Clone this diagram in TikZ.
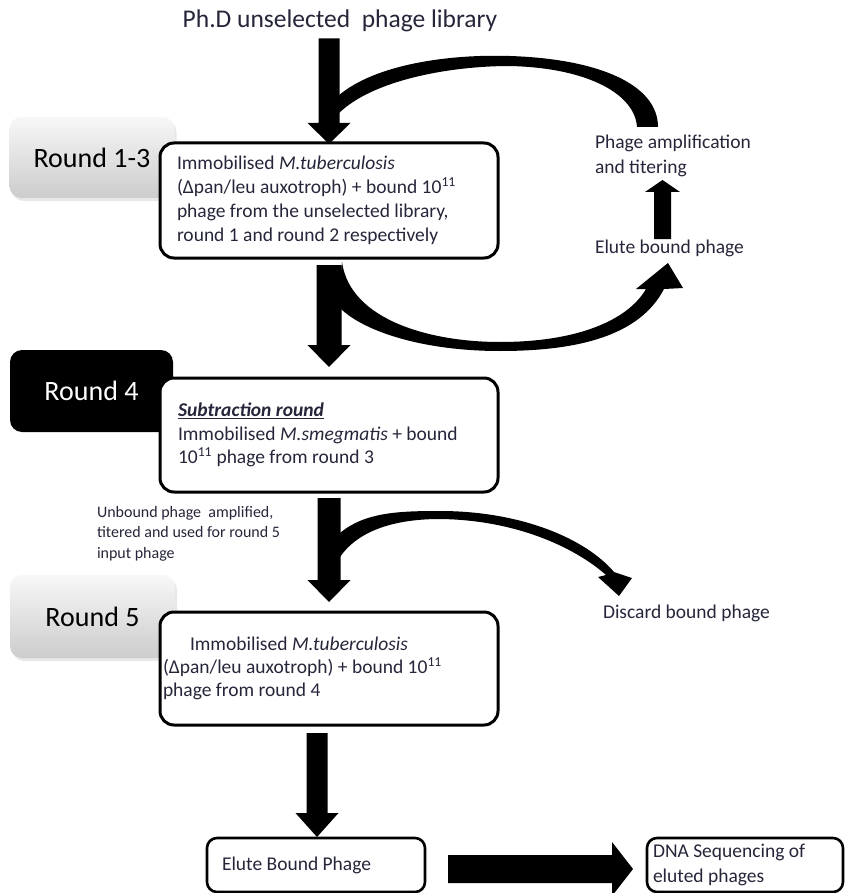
\documentclass[tikz,border=0pt]{standalone}
\usepackage{fontspec}
\setmainfont{Carlito}
\usetikzlibrary{calc,shadows}
\definecolor{txt}{RGB}{38,38,58}

\newcommand{\fatdown}[5]{\fill let \p1=(#1), \p2=(#2) in
  (\x1-#3,\y1) -- (\x1+#3,\y1) -- (\x1+#3,\y2+#5) -- (\x1+#4,\y2+#5) -- (\x1,\y2)
  -- (\x1-#4,\y2+#5) -- (\x1-#3,\y2+#5) -- cycle;}
\newcommand{\fatup}[5]{\fill let \p1=(#1), \p2=(#2) in
  (\x1-#3,\y1) -- (\x1+#3,\y1) -- (\x1+#3,\y2-#5) -- (\x1+#4,\y2-#5) -- (\x1,\y2)
  -- (\x1-#4,\y2-#5) -- (\x1-#3,\y2-#5) -- cycle;}
\newcommand{\fatright}[5]{\fill let \p1=(#1), \p2=(#2) in
  (\x1,\y1-#3) -- (\x2-#5,\y1-#3) -- (\x2-#5,\y1-#4) -- (\x2,\y1)
  -- (\x2-#5,\y1+#4) -- (\x2-#5,\y1+#3) -- (\x1,\y1+#3) -- cycle;}

\tikzset{
  mainbox/.style={draw=black, line width=3pt, rounded corners=14pt, fill=white,
    inner ysep=0pt, outer sep=0pt, align=flush left, text=txt,
    font=\fontsize{19.5}{24}\selectfont},
  smallbox/.style={draw=black, line width=2.6pt, rounded corners=10pt, fill=white,
    inner ysep=0pt, outer sep=0pt, align=flush left, text=txt,
    font=\fontsize{19.5}{25}\selectfont, minimum height=54pt},
  roundlbl/.style={rounded corners=12pt, inner sep=0pt, outer sep=0pt,
    top color=gray!6, bottom color=gray!40, text=black,
    font=\fontsize{28}{34}\selectfont,
    drop shadow={shadow xshift=2pt, shadow yshift=-3pt, opacity=0.18}},
  roundblk/.style={rounded corners=12pt, inner sep=0pt, outer sep=0pt,
    fill=black, text=white, font=\fontsize{28}{34}\selectfont},
  plain/.style={inner sep=0pt, outer sep=0pt, align=left, text=txt,
    font=\fontsize{19.5}{25}\selectfont},
  smalltext/.style={inner sep=0pt, outer sep=0pt, align=left, text=txt,
    font=\fontsize{16}{20.5}\selectfont}
}

\begin{document}
\begin{tikzpicture}[x=1pt,y=-1pt]
\useasboundingbox (0,0) rectangle (845,893);
\fill[white] (0,0) rectangle (845,893);

% title
\node[inner sep=0pt, outer sep=0pt, text=txt, font=\fontsize{25.5}{30}\selectfont, anchor=base]
  (title) at (340,28) {Ph.D unselected\ \ phage library};

% round labels
\node[roundlbl, minimum width=165pt, minimum height=81pt] (r13) at (92,157.5) {Round 1-3};
\node[roundblk, minimum width=163pt, minimum height=82pt] (r4) at (91.5,391) {Round 4};
\node[roundlbl, minimum width=165pt, minimum height=83pt] (r5) at (92.5,616.5) {Round 5};

% main boxes
\node[mainbox, minimum height=115pt, text width=304pt, inner xsep=17pt] (b1) at (329,200.5)
  {Immobilised \textit{M.tuberculosis}\\
   (Δpan/leu auxotroph) + bound 10\textsuperscript{11}\\
   phage from the unselected library,\\
   round 1 and round 2 respectively};
\node[mainbox, minimum height=114pt, text width=302pt, inner xsep=18pt,
      font=\fontsize{19.5}{23.5}\selectfont] (b2) at (329,435)
  {\textbf{\textit{\underline{Subtraction round}}}\\
   Immobilised \textit{M.smegmatis} + bound\\
   10\textsuperscript{11} phage from round 3};
\node[mainbox, minimum height=113pt, text width=332pt, inner xsep=3pt,
      font=\fontsize{19.5}{23}\selectfont] (b3) at (329,668.5)
  {\hspace*{27pt}Immobilised \textit{M.tuberculosis}\\
   (Δpan/leu auxotroph) + bound 10\textsuperscript{11}\\
   phage from round 4};

% bottom boxes
\node[smallbox, text width=188pt, inner xsep=15pt] (el) at (316,865) {Elute Bound Phage};
\node[smallbox, text width=184pt, inner xsep=6pt] (dna) at (745,865)
  {DNA Sequencing of\\eluted phages};

% side texts
\node[plain, anchor=north west] (amp) at (595,135) {Phage amplification\\and titering};
\node[plain, anchor=north west] (elb) at (595,240) {Elute bound phage};
\node[plain, anchor=north west] (disc) at (603,605) {Discard bound phage};
\node[smalltext, anchor=north west] (unb) at (97,506)
  {Unbound phage\ \ amplified,\\titered and used for round 5\\input phage};

% straight fat arrows
\fatdown{$(title.south -| b1.north)+(0,6)$}{$(b1.north)+(0,1)$}{10.5pt}{21.5pt}{21pt}
\fatdown{$(b1.south)+(0,7)$}{$(b2.north)+(0,-11)$}{12.5pt}{21.5pt}{22pt}
\fatdown{$(b2.south)+(0,6)$}{$(b3.north)+(0,-10)$}{11.5pt}{21.5pt}{22pt}
\fatdown{$(b3.south -| el.north)+(1,8)$}{$(el.north)+(0,-1)$}{10.5pt}{21.5pt}{24pt}
\fatright{$(el.east)+(23,4)$}{$(dna.west)+(-14,4)$}{14pt}{27pt}{21pt}

% up arrow between elute and amplification
\coordinate (up1) at (662.5,239);
\coordinate (up2) at (662.5,180);
\fatup{up1}{up2}{8.5pt}{17.5pt}{12pt}

% curved return arrow (top)
\fill (338,96) .. controls (375,64) and (450,54) .. (510,56)
  .. controls (600,59) and (658,85) .. (658,127) -- (637,127)
  .. controls (635,95) and (590,68) .. (510,66)
  .. controls (450,66) and (372,80) .. (338,114) -- cycle;

% curved arrow to elute bound phage
\fill (342,262) .. controls (350,320) and (430,342) .. (500,342)
  .. controls (578,342) and (628,320) .. (646,289) -- (636,289) -- (668,263)
  -- (683,288) -- (664,289)
  .. controls (640,335) and (580,351) .. (500,351)
  .. controls (420,351) and (360,330) .. (338,306) -- cycle;

% curved arrow to discard
\fill (340,533) .. controls (365,512) and (400,511) .. (440,511)
  .. controls (520,511) and (585,538) .. (614,572) -- (632,578) -- (619,596)
  -- (598,577) -- (606,575)
  .. controls (578,550) and (520,520) .. (440,519)
  .. controls (400,519) and (360,528) .. (340,557) -- cycle;
\end{tikzpicture}
\end{document}
